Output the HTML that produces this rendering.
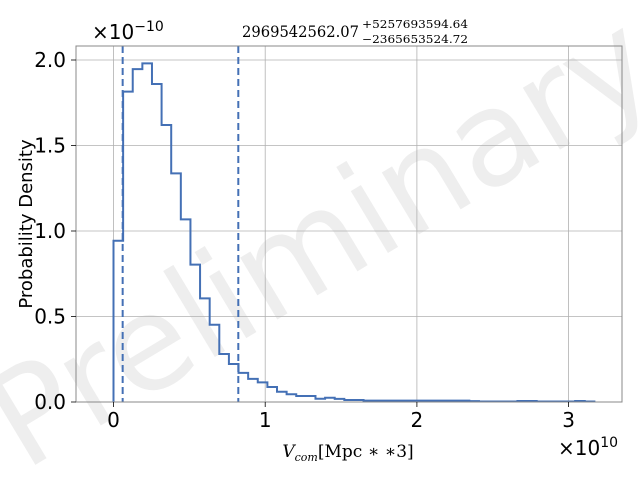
<!DOCTYPE html>
<html><head><meta charset="utf-8"><style>
html,body{margin:0;padding:0;background:#fff;}
svg{display:block;font-family:"DejaVu Sans","Liberation Sans",sans-serif;}
</style></head><body>
<svg id="chart" width="640" height="480" viewBox="0 0 640 480">
<text x="320" y="250" text-anchor="middle" dominant-baseline="middle" font-size="132" fill="#000" fill-opacity="0.065" transform="rotate(-31 320 240)">Preliminary</text>
<g id="grid"></g>
<g id="marks"></g>
<rect x="76" y="46" width="546" height="356" fill="none" stroke="#888" stroke-width="1"/>
<g id="ticks"></g>
<text x="92" y="39" font-size="20" fill="#000">×10<tspan dy="-8" font-size="14">−10</tspan></text>
<text x="558" y="455" font-size="20" fill="#000">×10<tspan dy="-8" font-size="14">10</tspan></text>
<text x="242" y="37" font-family="'DejaVu Serif','Liberation Serif',serif" font-size="16" fill="#000"><tspan textLength="117" lengthAdjust="spacingAndGlyphs">2969542562.07</tspan><tspan x="362" y="28" font-size="11" textLength="106" lengthAdjust="spacingAndGlyphs">+5257693594.64</tspan><tspan x="362" y="43" font-size="11" textLength="106" lengthAdjust="spacingAndGlyphs">−2365653524.72</tspan></text>
<text x="32" y="224" font-size="18" fill="#000" text-anchor="middle" transform="rotate(-90 32 224)">Probability Density</text>
<text x="348" y="457" font-family="'DejaVu Serif','Liberation Serif',serif" font-size="17" fill="#000" text-anchor="middle"><tspan font-style="italic">V</tspan><tspan font-size="11" font-style="italic" dy="4">com</tspan><tspan dy="-4">[Mpc ∗ ∗3]</tspan></text>
</svg>
<script>
const binValues=[0.943,1.815,1.947,1.98,1.86,1.62,1.337,1.068,0.803,0.606,0.452,0.281,0.222,0.17,0.135,0.115,0.088,0.06,0.045,0.035,0.035,0.019,0.025,0.018,0.012,0.012,0.008,0.008,0.008,0.008,0.008,0.008,0.008,0.008,0.008,0.008,0.008,0.005,0.003,0.003,0.003,0.003,0.006,0.006,0.003,0.003,0.003,0.003,0.006,0.003];
const binStart=0, binEnd=3.17;
const xTicks=[0,1,2,3];
const yTicks=[0.0,0.5,1.0,1.5,2.0];
const yTickLabels=["0.0","0.5","1.0","1.5","2.0"];
const credLow=0.0604, credHigh=0.8227;
const NS="http://www.w3.org/2000/svg";
function X(v){return 113.5+v*151.7;}
function Y(v){return 402-v*171;}
function mk(tag,attrs,parent){const e=document.createElementNS(NS,tag);for(const k in attrs)e.setAttribute(k,attrs[k]);parent.appendChild(e);return e;}
const grid=document.getElementById('grid'),ticks=document.getElementById('ticks'),marks=document.getElementById('marks');
xTicks.forEach(t=>{
  const l=mk('line',{x1:X(t),x2:X(t),y1:46,y2:402,stroke:'#b0b0b0','stroke-width':0.8},grid);
  
  
  const tk=mk('line',{x1:X(t),x2:X(t),y1:402,y2:407,stroke:'#000','stroke-width':0.8},ticks);
  
  
  const tx=mk('text',{x:X(t),y:427,'font-size':20,'text-anchor':'middle',fill:'#000'},ticks);
  tx.textContent=String(t);
  
  
});
yTicks.forEach((t,i)=>{
  const l=mk('line',{x1:76,x2:622,y1:Y(t),y2:Y(t),stroke:'#b0b0b0','stroke-width':0.8},grid);
  
  
  const tk=mk('line',{x1:71,x2:76,y1:Y(t),y2:Y(t),stroke:'#000','stroke-width':0.8},ticks);
  
  
  const tx=mk('text',{x:66,y:Y(t)+7,'font-size':20,'text-anchor':'end',fill:'#000'},ticks);
  tx.textContent=yTickLabels[i];
  
  
});
const w=(binEnd-binStart)/binValues.length;
let d='M'+X(binStart)+','+Y(0);
binValues.forEach((v,i)=>{d+=' L'+X(binStart+i*w)+','+Y(v)+' L'+X(binStart+(i+1)*w)+','+Y(v);});
d+=' L'+X(binEnd)+','+Y(0);
const p=mk('path',{d:d,fill:'none',stroke:'#4470b5','stroke-width':2,'stroke-linejoin':'miter'},marks);


[credLow,credHigh].forEach(v=>{
  const l=mk('line',{x1:X(v),x2:X(v),y1:46,y2:402,stroke:'#4470b5','stroke-width':2,'stroke-dasharray':'7,4'},marks);
  
  
});
</script>
</body></html>
